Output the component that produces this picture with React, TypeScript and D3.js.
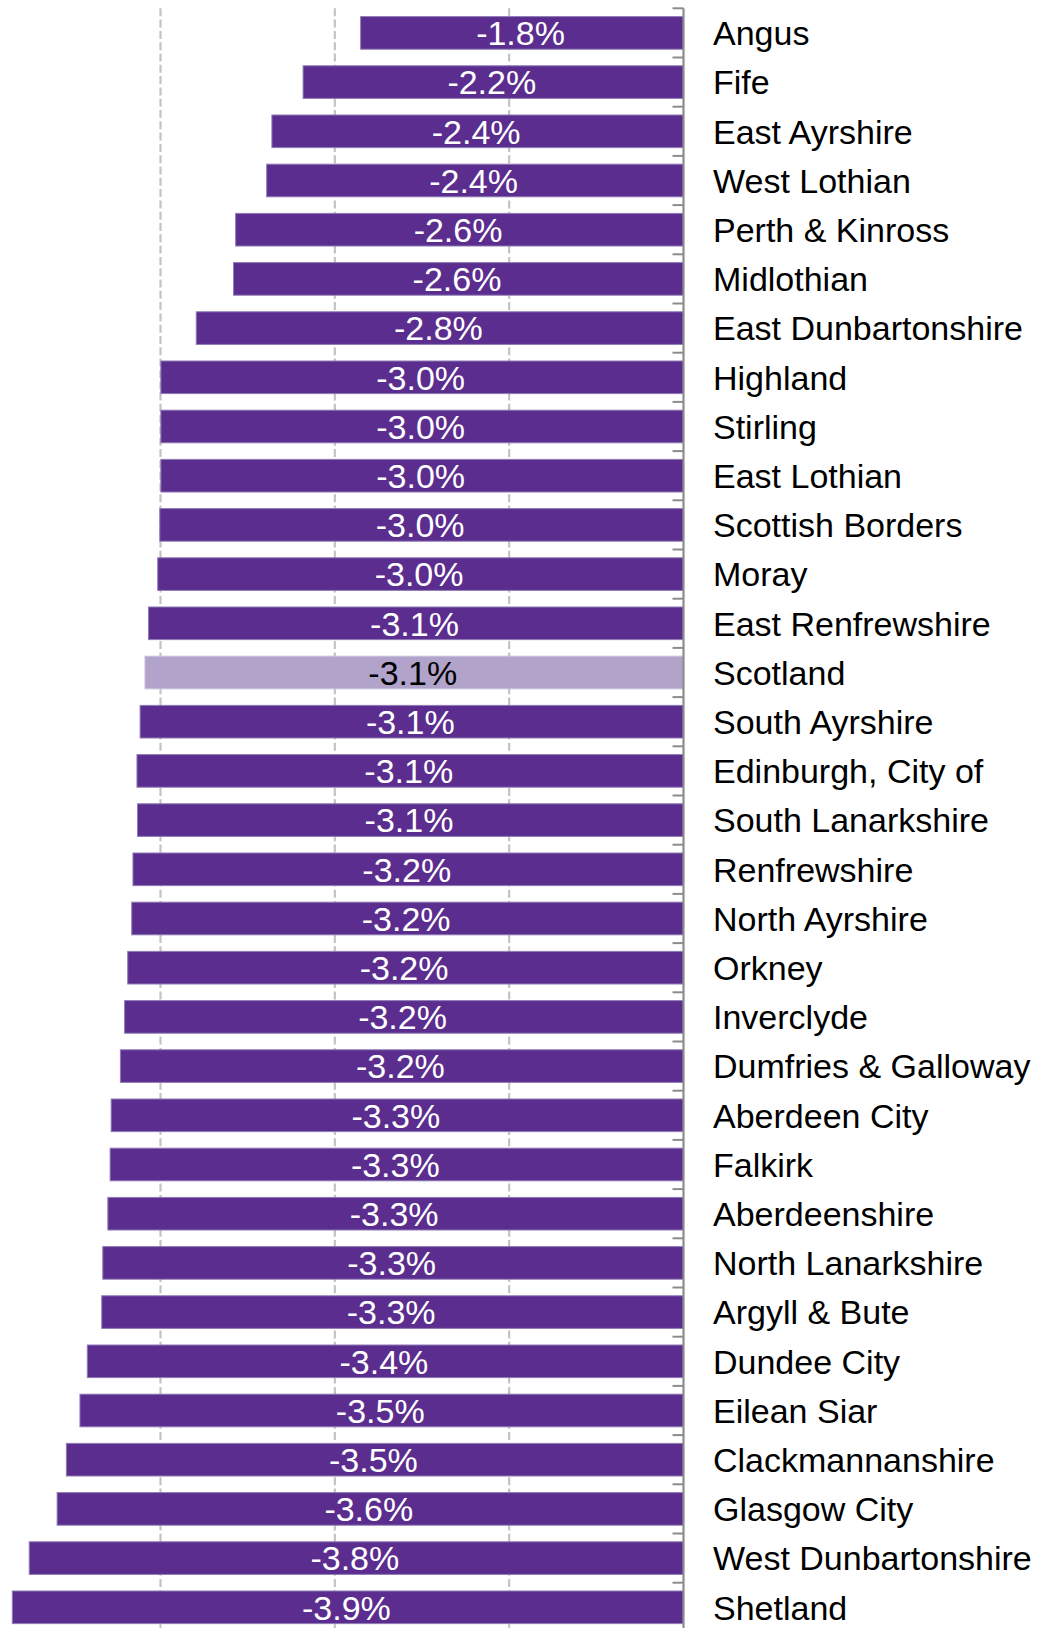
import React from "react";
import * as d3 from "d3";

const categories = [
  "Angus", "Fife", "East Ayrshire", "West Lothian", "Perth & Kinross", "Midlothian",
  "East Dunbartonshire", "Highland", "Stirling", "East Lothian", "Scottish Borders", "Moray",
  "East Renfrewshire", "Scotland", "South Ayrshire", "Edinburgh, City of", "South Lanarkshire",
  "Renfrewshire", "North Ayrshire", "Orkney", "Inverclyde", "Dumfries & Galloway",
  "Aberdeen City", "Falkirk", "Aberdeenshire", "North Lanarkshire", "Argyll & Bute",
  "Dundee City", "Eilean Siar", "Clackmannanshire", "Glasgow City", "West Dunbartonshire", "Shetland",
];

const values = [
  -1.852, -2.182, -2.361, -2.391, -2.569, -2.581,
  -2.795, -2.998, -2.998, -2.998, -3.004, -3.016,
  -3.069, -3.089, -3.117, -3.135, -3.132,
  -3.158, -3.165, -3.188, -3.206, -3.23,
  -3.283, -3.289, -3.302, -3.331, -3.337,
  -3.42, -3.462, -3.54, -3.593, -3.753, -3.85,
];

const valueLabels = [
  "-1.8%", "-2.2%", "-2.4%", "-2.4%", "-2.6%", "-2.6%",
  "-2.8%", "-3.0%", "-3.0%", "-3.0%", "-3.0%", "-3.0%",
  "-3.1%", "-3.1%", "-3.1%", "-3.1%", "-3.1%",
  "-3.2%", "-3.2%", "-3.2%", "-3.2%", "-3.2%",
  "-3.3%", "-3.3%", "-3.3%", "-3.3%", "-3.3%",
  "-3.4%", "-3.5%", "-3.5%", "-3.6%", "-3.8%", "-3.9%",
];

const gridTicks = [-3, -2, -1];
const highlight = "Scotland";

const W = 1041;
const H = 1628;
const FONT = "'Liberation Sans', Arial, Helvetica, sans-serif";

export default function App() {
  const x = d3.scaleLinear().domain([-3, 0]).range([160.5, 683.5]);
  const step = 49.2;
  const top = 8.3;
  const y = d3
    .scaleBand<string>()
    .domain(categories)
    .range([top, top + step * categories.length])
    .paddingInner(0.337)
    .paddingOuter(0.1685);
  const bw = y.bandwidth();
  const gap = y.step() - bw;
  const axisX = x(0);

  return (
    <>
      <style>{`body{margin:0}`}</style>
      <svg width={W} height={H} style={{ display: "block", background: "#fff" }}>
        {gridTicks.map((t) => (
          <line
            key={t}
            x1={x(t)}
            x2={x(t)}
            y1={top}
            y2={H}
            stroke="#c3c3c3"
            strokeWidth={2.2}
            strokeDasharray="8,3.3"
          />
        ))}
        {categories.map((c, i) => {
          const v = values[i];
          const y0 = y(c)!;
          const isHl = c === highlight;
          return (
            <g key={c}>
              <rect
                x={x(v)}
                y={y0}
                width={axisX - x(v)}
                height={bw}
                fill={isHl ? "#b1a3ca" : "#5b2d8e"}
                stroke={isHl ? "#c9bedc" : "#8f7bb6"}
                strokeWidth={1}
              />
              <text
                x={(x(v) + axisX) / 2 - 1.5}
                y={y0 + bw / 2}
                dy="0.36em"
                textAnchor="middle"
                fontFamily={FONT}
                fontSize={34}
                fill={isHl ? "#000" : "#fff"}
              >
                {valueLabels[i]}
              </text>
              <text
                x={713}
                y={y0 + bw / 2}
                dy="0.36em"
                fontFamily={FONT}
                fontSize={34}
                fill="#000"
              >
                {c}
              </text>
            </g>
          );
        })}
        {categories.map((c) => (
          <line
            key={"t" + c}
            x1={axisX - 11}
            x2={axisX}
            y1={y(c)! - gap / 2}
            y2={y(c)! - gap / 2}
            stroke="#8c8c8c"
            strokeWidth={2}
          />
        ))}
        <line x1={axisX} x2={axisX} y1={top} y2={H} stroke="#8c8c8c" strokeWidth={2.2} />
      </svg>
    </>
  );
}
